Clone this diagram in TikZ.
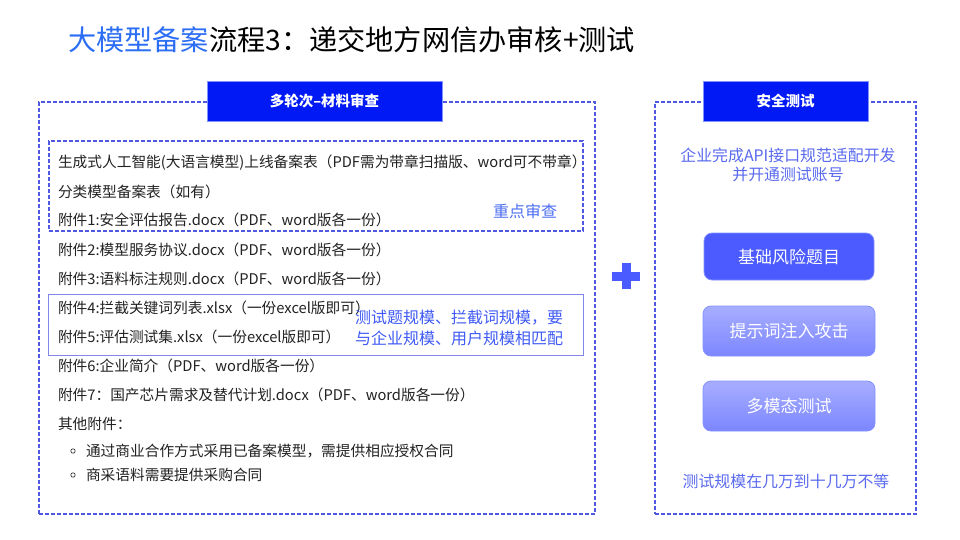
\documentclass[tikz,border=0pt]{standalone}
\usepackage{fontspec}
\setmainfont{Noto Sans CJK SC}
\definecolor{titleblue}{HTML}{2B6DF5}
\definecolor{dashc}{HTML}{4F58E0}
\definecolor{hdrblue}{HTML}{0019F5}
\definecolor{hdrborder}{HTML}{7F93FF}
\definecolor{box2c}{HTML}{8087E8}
\definecolor{bluetxt}{HTML}{3F5AF5}
\definecolor{keyc}{HTML}{4D6FF2}
\definecolor{righttxt}{HTML}{5A6AEF}
\definecolor{solidbox}{HTML}{4B5BFF}
\definecolor{solidborder}{HTML}{8592FF}
\definecolor{gtop}{HTML}{A7AEFF}
\definecolor{gbot}{HTML}{7C86FF}
\definecolor{bodyc}{HTML}{222222}
\definecolor{plusc}{HTML}{4A5BFF}
\begin{document}
\begin{tikzpicture}[x=1pt,y=-1pt,
  every node/.style={inner sep=0pt, outer sep=0pt},
  dashbox/.style={draw=dashc, line width=1.1pt, dash pattern=on 4pt off 2pt},
  hdr/.style={fill=hdrblue, draw=hdrborder, line width=0.8pt, text=white, font=\bfseries\fontsize{14.5}{16}\selectfont},
  body/.style={anchor=west, text=bodyc, font=\fontsize{14.7}{16}\selectfont},
  bluenote/.style={anchor=west, text=bluetxt, font=\fontsize{16}{18}\selectfont},
  rnote/.style={text=righttxt, font=\fontsize{15.9}{17}\selectfont},
  solidbtn/.style={fill=solidbox, draw=solidborder, line width=0.8pt, rounded corners=8pt, text=white, font=\fontsize{17}{19}\selectfont},
  gradbtn/.style={top color=gtop, bottom color=gbot, draw=solidborder, line width=0.8pt, rounded corners=8pt, text=white, font=\fontsize{17}{19}\selectfont}
]
\useasboundingbox (0,0) rectangle (960,540);
\fill[white] (0,0) rectangle (960,540);

% title
\node (title) [anchor=west, font=\fontsize{28.2}{32}\selectfont] at (68,40) {\textcolor{titleblue}{大模型备案}流程3：递交地方网信办审核+测试};

% left panel
\node (leftbox) [dashbox, minimum width=556pt, minimum height=412pt] at (317,308) {};
\node (hdrL) [hdr, minimum width=235pt, minimum height=40pt] at (324.5,101) {多轮次–材料审查};
\node (keybox) [dashbox, minimum width=534pt, minimum height=90pt] at (316,186) {};
\node (scalebox) [draw=box2c, line width=0.8pt, minimum width=535pt, minimum height=61pt] at (315.5,324.5) {};

\node (l1) [body] at (58,163) {生成式人工智能(大语言模型)上线备案表（PDF需为带章扫描版、word可不带章）};
\node (l2) [body] at (58,192) {分类模型备案表（如有）};
\node (l3) [body] at (58,220) {附件1:安全评估报告.docx（PDF、word版各一份）};
\node (l4) [body] at (58,250) {附件2:模型服务协议.docx（PDF、word版各一份）};
\node (l5) [body] at (58,279) {附件3:语料标注规则.docx（PDF、word版各一份）};
\node (l6) [body] at (58,308) {附件4:拦截关键词列表.xlsx（一份excel版即可）};
\node (l7) [body] at (58,337) {附件5:评估测试集.xlsx（一份excel版即可）};
\node (l8) [body] at (58,366) {附件6:企业简介（PDF、word版各一份）};
\node (l9) [body] at (58,395) {附件7：国产芯片需求及替代计划.docx（PDF、word版各一份）};
\node (l10) [body] at (58,424) {其他附件：};
\draw[bodyc, line width=0.6pt] (73,451) circle (2.2pt);
\node (l11) [body] at (86,451) {通过商业合作方式采用已备案模型，需提供相应授权合同};
\draw[bodyc, line width=0.6pt] (73,475) circle (2.2pt);
\node (l12) [body] at (86,475) {商采语料需要提供采购合同};

\node (keynote) [text=keyc, font=\fontsize{16}{18}\selectfont] at (525,211) {重点审查};
\node (scale1) [bluenote] at (355,318) {测试题规模、拦截词规模，要};
\node (scale2) [bluenote] at (355,338) {与企业规模、用户规模相匹配};

% plus
\fill[plusc] (612,272) rectangle (640,281);
\fill[plusc] (621.5,263) rectangle (630.5,289);

% right panel
\node (rightbox) [dashbox, minimum width=261pt, minimum height=412pt] at (785.5,308) {};
\node (hdrR) [hdr, minimum width=165pt, minimum height=40pt] at (785.5,101) {安全测试};
\node (api1) [rnote] at (788,155) {企业完成API接口规范适配开发};
\node (api2) [rnote] at (788,174) {并开通测试账号};
\node (b1) [solidbtn, minimum width=170pt, minimum height=47pt] at (789,256.5) {基础风险题目};
\node (b2) [gradbtn, minimum width=172pt, minimum height=50pt] at (789,331) {提示词注入攻击};
\node (b3) [gradbtn, minimum width=172pt, minimum height=50pt] at (789,406) {多模态测试};
\node (range) [rnote] at (786,481) {测试规模在几万到十几万不等};
\end{tikzpicture}
\end{document}
